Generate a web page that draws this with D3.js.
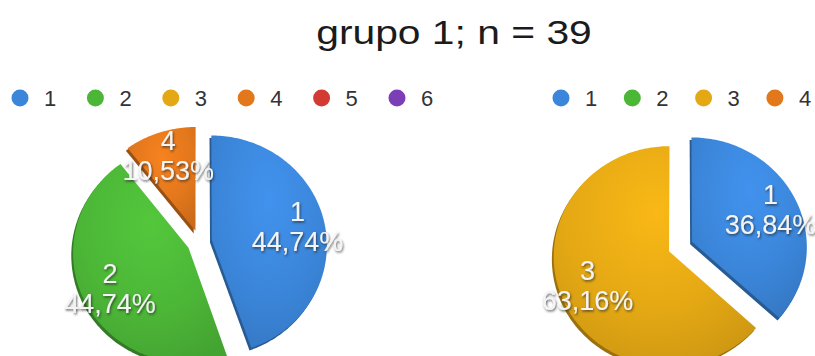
<!DOCTYPE html>
<html>
<head>
<meta charset="utf-8">
<script src="https://cdn.jsdelivr.net/npm/d3@7"></script>
<style>
  html, body { margin: 0; padding: 0; background: #ffffff; }
  svg { display: block; }
</style>
</head>
<body>
<svg id="chart" width="815" height="356"></svg>
<script>
// Answer categories and their colours
const categories = ["1", "2", "3", "4", "5", "6"];
const categoryColors = ["#3b86da", "#4cb637", "#e4a814", "#e2771c", "#d23a32", "#7b3eb6"];

// Response counts per category (38 answers out of n = 39)
const leftValues  = [17, 17, 0, 4, 0, 0];
const rightValues = [14, 0, 24, 0];

// Categories listed in each legend
const leftLegend  = ["1", "2", "3", "4", "5", "6"];
const rightLegend = ["1", "2", "3", "4"];

const titleText = "grupo 1; n = 39";

const W = 815, H = 356;
const svg = d3.select("#chart");
const defs = svg.append("defs");
const font = "'Liberation Sans', Arial, Helvetica, sans-serif";

const colorScale = d3.scaleOrdinal().domain(categories).range(categoryColors);

// Embossed label shadow
const f = defs.append("filter").attr("id", "lblShadow")
  .attr("x", "-20%").attr("y", "-30%").attr("width", "140%").attr("height", "160%");
f.append("feDropShadow").attr("dx", 1).attr("dy", 1.5).attr("stdDeviation", 0.9)
  .attr("flood-color", "#222").attr("flood-opacity", 0.7);

// Glossy shading per colour
categories.forEach((c, i) => {
  const base = d3.color(categoryColors[i]);
  const g = defs.append("radialGradient").attr("id", "grad" + i)
    .attr("cx", "50%").attr("cy", "30%").attr("r", "75%");
  g.append("stop").attr("offset", "0%").attr("stop-color", base.brighter(0.25).formatHex());
  g.append("stop").attr("offset", "60%").attr("stop-color", base.formatHex());
  g.append("stop").attr("offset", "100%").attr("stop-color", base.darker(0.3).formatHex());
});

// Title (slightly widened type)
svg.append("text")
  .attr("transform", "translate(454,44) scale(1.2,1)")
  .attr("text-anchor", "middle")
  .style("font-family", font).style("font-size", "34px")
  .attr("fill", "#1b1b1b")
  .text(titleText);

// Legends
function drawLegend(items, x0, step) {
  const g = svg.append("g");
  const it = g.selectAll("g").data(items).join("g")
    .attr("transform", (d, i) => `translate(${x0 + i * step},98)`);
  it.append("circle").attr("r", 8.5).attr("fill", d => colorScale(d));
  it.append("text").attr("x", 24).attr("dy", "0.36em")
    .style("font-family", font).style("font-size", "22px")
    .attr("fill", "#333").text(d => d);
}
drawLegend(leftLegend, 20, 75.4);
drawLegend(rightLegend, 561, 71.3);

// Tilted, exploded pie drawn in perspective
const R = 115, explode = 12.5;
const tilt = 18 * Math.PI / 180, persp = 800;

function makeProjector(cx, cy) {
  return (x, y) => {
    const z = y * Math.sin(tilt);
    const s = persp / (persp - z);
    return [cx + x * s, cy + y * Math.cos(tilt) * s];
  };
}

const pie = d3.pie().sort(null).value(d => d.value);
const line = d3.line().curve(d3.curveLinearClosed);
const pct = v => (v * 100).toFixed(2).replace(".", ",") + "%";

function drawPie(values, cx, cy) {
  const proj = makeProjector(cx, cy);
  const data = values.map((v, i) => ({ cat: categories[i], idx: i, value: v }));
  const total = d3.sum(values);
  const arcs = pie(data).filter(a => a.data.value > 0);
  const g = svg.append("g");

  arcs.forEach(a => {
    const mid = (a.startAngle + a.endAngle) / 2;
    const ox = explode * Math.sin(mid), oy = -explode * Math.cos(mid);
    const pts = [proj(ox, oy)];
    const n = Math.max(8, Math.ceil((a.endAngle - a.startAngle) / 0.02));
    for (let k = 0; k <= n; k++) {
      const t = a.startAngle + (a.endAngle - a.startAngle) * k / n;
      pts.push(proj(ox + R * Math.sin(t), oy - R * Math.cos(t)));
    }
    const d = line(pts);
    const base = d3.color(categoryColors[a.data.idx]);
    // slice thickness
    g.append("path").attr("d", d)
      .attr("transform", "translate(-1.8,2.6)")
      .attr("fill", base.darker(1.1).formatHex());
    g.append("path").attr("d", d)
      .attr("fill", `url(#grad${a.data.idx})`);
    a.lbl = { mid, ox, oy };
  });

  arcs.forEach(a => {
    const { mid, ox, oy } = a.lbl;
    const rr = R * 0.76;
    const [lx, ly] = proj(ox + rr * Math.sin(mid), oy - rr * Math.cos(mid));
    const t = g.append("text")
      .attr("text-anchor", "middle")
      .attr("filter", "url(#lblShadow)")
      .style("font-family", font).style("font-size", "27px")
      .attr("fill", "#f4f4f4");
    t.append("tspan").attr("x", lx).attr("y", ly - 15).attr("dy", "0.36em").text(a.data.cat);
    t.append("tspan").attr("x", lx).attr("y", ly + 15).attr("dy", "0.36em").text(pct(a.data.value / total));
  });
}

drawPie(leftValues, 199.5, 242);
drawPie(rightValues, 680.5, 246.5);
</script>
</body>
</html>
